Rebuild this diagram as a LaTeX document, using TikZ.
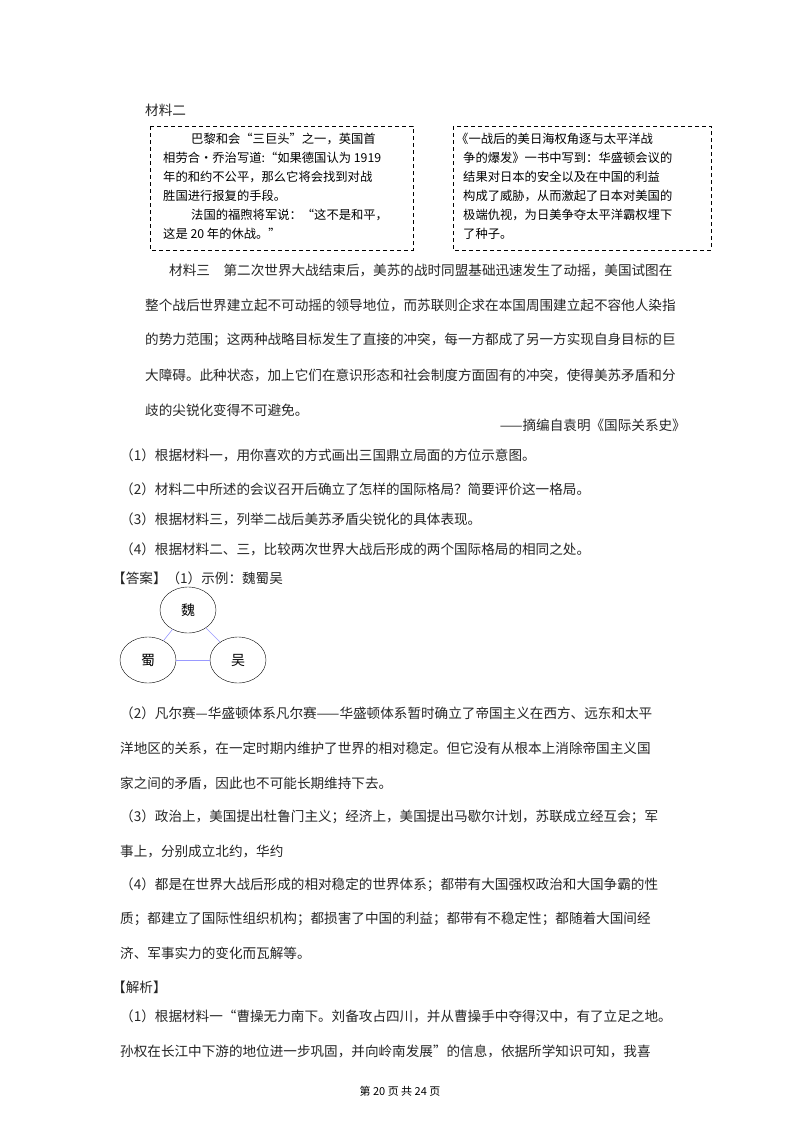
\documentclass[tikz,border=0pt]{standalone}
\usepackage{fontspec}
\setmainfont{Noto Sans CJK SC}
\begin{document}
\begin{tikzpicture}[x=1pt,y=-1pt,
  tl/.style={anchor=west,inner sep=0pt,font=\fontsize{13.6}{16}\selectfont,text=black!85},
  bl/.style={anchor=west,inner sep=0pt,font=\fontsize{12.3}{14}\selectfont},
  dbox/.style={draw,dashed,line width=0.9pt,dash pattern=on 4pt off 3pt},
  st/.style={draw,ellipse,minimum width=56pt,minimum height=46pt,inner sep=0pt,font=\fontsize{14}{16}\selectfont},
  lk/.style={draw=blue!40,line width=0.6pt}]
\usetikzlibrary{shapes.geometric}
\fill[white] (0,0) rectangle (800,1132);
\useasboundingbox (0,0) rectangle (800,1132);
\node[tl] (m2) at (145,110) {材料二};
\draw[dbox] (150,126) rectangle (413,250);
\draw[dbox] (453,126) rectangle (711,250);
\node[bl] (a1) at (191,139) {巴黎和会“三巨头”之一，英国首};
\node[bl] (a2) at (163,158) {相劳合·乔治写道:“如果德国认为 1919};
\node[bl] (a3) at (163,177) {年的和约不公平，那么它将会找到对战};
\node[bl] (a4) at (163,196) {胜国进行报复的手段。};
\node[bl] (a5) at (191,215) {法国的福煦将军说：“这不是和平，};
\node[bl] (a6) at (163,234) {这是 20 年的休战。”};
\node[bl] (b1) at (456,139) {《一战后的美日海权角逐与太平洋战};
\node[bl] (b2) at (463,158) {争的爆发》一书中写到：华盛顿会议的};
\node[bl] (b3) at (463,177) {结果对日本的安全以及在中国的利益};
\node[bl] (b4) at (463,196) {构成了威胁，从而激起了日本对美国的};
\node[bl] (b5) at (463,215) {极端仇视，为日美争夺太平洋霸权埋下};
\node[bl] (b6) at (463,234) {了种子。};
\node[tl] (c1) at (145,270) {\hspace{24pt}材料三\quad 第二次世界大战结束后，美苏的战时同盟基础迅速发生了动摇，美国试图在};
\node[tl] (c2) at (145,305) {整个战后世界建立起不可动摇的领导地位，而苏联则企求在本国周围建立起不容他人染指};
\node[tl] (c3) at (145,340) {的势力范围；这两种战略目标发生了直接的冲突，每一方都成了另一方实现自身目标的巨};
\node[tl] (c4) at (145,375) {大障碍。此种状态，加上它们在意识形态和社会制度方面固有的冲突，使得美苏矛盾和分};
\node[tl] (c5) at (145,410) {歧的尖锐化变得不可避免。};
\node[tl,anchor=east] (c6) at (686,425) {——摘编自袁明《国际关系史》};
\node[tl] (q1) at (120,455) {（1）根据材料一，用你喜欢的方式画出三国鼎立局面的方位示意图。};
\node[tl] (q2) at (120,489) {（2）材料二中所述的会议召开后确立了怎样的国际格局？简要评价这一格局。};
\node[tl] (q3) at (120,519) {（3）根据材料三，列举二战后美苏矛盾尖锐化的具体表现。};
\node[tl] (q4) at (120,549) {（4）根据材料二、三，比较两次世界大战后形成的两个国际格局的相同之处。};
\node[tl] (ans) at (112,578) {【答案】（1）示例：魏蜀吴};
\node[st] (wei) at (188,610) {魏};
\node[st] (shu) at (148,660) {蜀};
\node[st] (wu) at (238,660) {吴};
\draw[lk] (wei) -- (shu);
\draw[lk] (wei) -- (wu);
\draw[lk] (shu) -- (wu);
\node[tl] (d1) at (120,713) {（2）凡尔赛—华盛顿体系凡尔赛——华盛顿体系暂时确立了帝国主义在西方、远东和太平};
\node[tl] (d2) at (120,748) {洋地区的关系，在一定时期内维护了世界的相对稳定。但它没有从根本上消除帝国主义国};
\node[tl] (d3) at (120,783) {家之间的矛盾，因此也不可能长期维持下去。};
\node[tl] (e1) at (120,817) {（3）政治上，美国提出杜鲁门主义；经济上，美国提出马歇尔计划，苏联成立经互会；军};
\node[tl] (e2) at (120,851) {事上，分别成立北约，华约};
\node[tl] (f1) at (120,885) {（4）都是在世界大战后形成的相对稳定的世界体系；都带有大国强权政治和大国争霸的性};
\node[tl] (f2) at (120,919) {质；都建立了国际性组织机构；都损害了中国的利益；都带有不稳定性；都随着大国间经};
\node[tl] (f3) at (120,953) {济、军事实力的变化而瓦解等。};
\node[tl] (g0) at (112,987) {【解析】};
\node[tl] (g1) at (120,1016) {（1）根据材料一“曹操无力南下。刘备攻占四川，并从曹操手中夺得汉中，有了立足之地。};
\node[tl] (g2) at (120,1051) {孙权在长江中下游的地位进一步巩固，并向岭南发展”的信息，依据所学知识可知，我喜};
\node[anchor=center,inner sep=0pt,font=\fontsize{11}{13}\selectfont] (ft) at (400,1091) {第 20 页 共 24 页};
\end{tikzpicture}
\end{document}
